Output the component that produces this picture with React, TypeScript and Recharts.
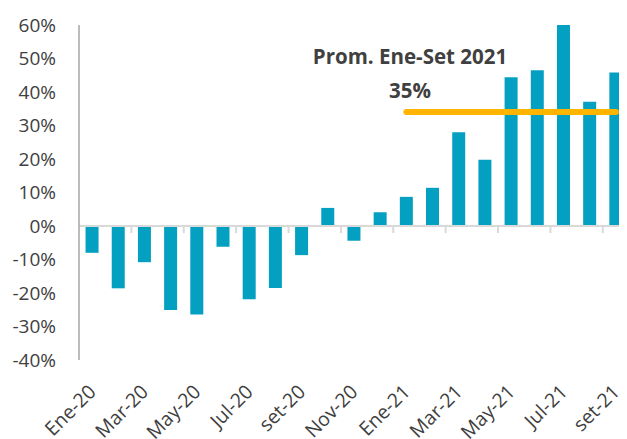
import { Bar, ComposedChart, Line, ReferenceLine, XAxis, YAxis } from "recharts";

const months = [
  "Ene-20", "Feb-20", "Mar-20", "Abr-20", "May-20", "Jun-20", "Jul-20",
  "Ago-20", "set-20", "Oct-20", "Nov-20", "Dic-20",
  "Ene-21", "Feb-21", "Mar-21", "Abr-21", "May-21", "Jun-21", "Jul-21",
  "Ago-21", "set-21",
];

const growth = [
  -8.0, -18.6, -10.8, -25.1, -26.4, -6.2, -21.9, -18.5, -8.7, 5.4, -4.4, 4.1,
  8.7, 11.4, 28.0, 19.8, 44.4, 46.5, 60.3, 37.1, 45.8,
];

// promedio ene-set 2021, solo en los meses de 2021
const average = [
  null, null, null, null, null, null, null, null, null, null, null, null,
  34, 34, 34, 34, 34, 34, 34, 34, 34,
];

const yTicks = [-40, -30, -20, -10, 0, 10, 20, 30, 40, 50, 60];

const data = months.map((month, i) => ({
  month,
  growth: growth[i],
  avg: average[i],
}));

const FONT = "'Open Sans', sans-serif";
const INK = "#404040";

const MonthTick = ({ x, y, payload }: { x?: number; y?: number; payload?: { value: string } }) => (
  <g transform={`translate(${(x ?? 0) + 5},${(y ?? 0) + 31})`}>
    <text
      textAnchor="end"
      transform="rotate(-45)"
      fill={INK}
      fontSize={19.5}
      fontFamily={FONT}
    >
      {payload?.value}
    </text>
  </g>
);

// línea del cero con marcas cada dos meses, como en Excel
const ZeroAxis = (props: { x1?: number; y1?: number; x2?: number; y2?: number }) => {
  const x1 = props.x1 ?? 0;
  const x2 = props.x2 ?? 0;
  const y = props.y1 ?? 0;
  const step = ((x2 - x1) / months.length) * 2;
  const marks = [];
  for (let k = 1; x1 + k * step < x2 - 1; k++) {
    const mx = x1 + k * step;
    marks.push(<line key={k} x1={mx} x2={mx} y1={y} y2={y + 7} stroke="#d9d9d9" strokeWidth={2} />);
  }
  return (
    <g>
      <line x1={x1} x2={x2} y1={y} y2={y} stroke="#d9d9d9" strokeWidth={2} />
      {marks}
    </g>
  );
};

export default function App() {
  return (
    <div style={{ margin: "-8px 0 0 -8px", width: 640, height: 439, overflow: "hidden" }}>
      <ComposedChart
        width={640}
        height={439}
        data={data}
        margin={{ top: 25, right: 11, bottom: 0, left: 0 }}
        barCategoryGap="25%"
      >
        <XAxis
          dataKey="month"
          interval={1}
          axisLine={false}
          tickLine={false}
          tickSize={0}
          height={79}
          tick={<MonthTick />}
        />
        <YAxis
          width={79}
          domain={[-40, 60]}
          ticks={yTicks}
          allowDataOverflow
          tickFormatter={(v: number) => `${v}%`}
          axisLine={{ stroke: "#a6a6a6", strokeWidth: 1.5 }}
          tickLine={false}
          tickSize={0}
          tickMargin={23}
          tick={{ fill: INK, fontSize: 19, fontFamily: FONT }}
        />
        <ReferenceLine y={0} shape={(p: any) => <ZeroAxis {...p} />} />
        <Bar dataKey="growth" fill="#04a0c2" isAnimationActive={false} />
        <Line
          dataKey="avg"
          stroke="#ffb400"
          strokeWidth={6}
          strokeLinecap="round"
          dot={false}
          activeDot={false}
          connectNulls={false}
          isAnimationActive={false}
        />
        <text x={410} y={64} textAnchor="middle" fill={INK} fontSize={20.5} fontWeight="bold" fontFamily={FONT}>
          Prom. Ene-Set 2021
        </text>
        <text x={410} y={98} textAnchor="middle" fill={INK} fontSize={20.5} fontWeight="bold" fontFamily={FONT}>
          35%
        </text>
      </ComposedChart>
    </div>
  );
}
